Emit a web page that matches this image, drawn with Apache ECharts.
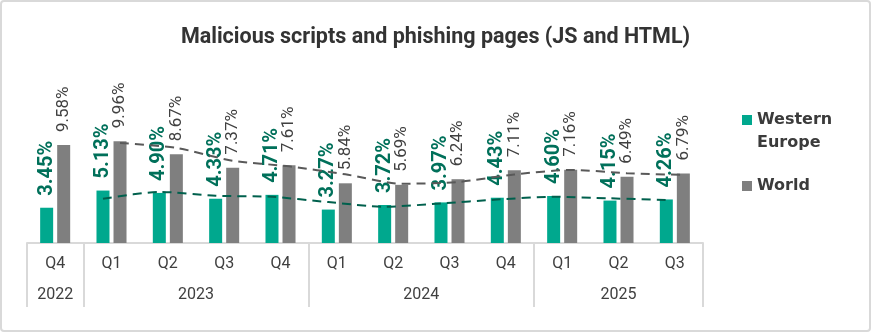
<!DOCTYPE html>
<html><head><meta charset="utf-8">
<script src="https://cdn.jsdelivr.net/npm/echarts@6/dist/echarts.min.js"></script>
<style>html,body{margin:0;padding:0;background:#fff}#c{width:871px;height:332px}</style>
</head><body><div id="c"></div>
<script>
const quarters = ['Q4','Q1','Q2','Q3','Q4','Q1','Q2','Q3','Q4','Q1','Q2','Q3'];
const years = ['2022','2023','2024','2025'];
const quartersPerYear = [1,4,4,3];
const westernEurope = [3.45,5.13,4.90,4.33,4.71,3.27,3.72,3.97,4.43,4.60,4.15,4.26];
const world = [9.58,9.96,8.67,7.37,7.61,5.84,5.69,6.24,7.11,7.16,6.49,6.79];
const westernEuropeTrend = [null,4.32,5.00,4.62,4.52,4.00,3.55,3.87,4.25,4.52,4.37,4.20];
const worldTrend = [null,9.78,9.30,8.05,7.50,6.72,5.80,5.97,6.70,7.15,6.83,6.66];

// year axis slots (half-category positions)
const nSlots = quarters.length * 2 + 1;
const slotIds = Array.from({length: nSlots}, (_, i) => 's' + i);
const slotLabel = new Array(nSlots).fill('');
const sepSlots = new Set();
let s = 0;
years.forEach((y, i) => { sepSlots.add(2 * s); slotLabel[2 * s + quartersPerYear[i]] = y; s += quartersPerYear[i]; });
sepSlots.add(2 * s);

const FONT = 'Roboto';
const gridLeft = 27, gridRight = 168, gridTop = 59, gridBottom = 89, shift = 8.5;
const fmt = p => p.value.toFixed(2) + '%';

const chart = echarts.init(document.getElementById('c'), null, {renderer: 'canvas'});
chart.setOption({
  animation: false,
  backgroundColor: '#fff',
  textStyle: {fontFamily: FONT},
  title: {
    text: 'Malicious scripts and phishing pages (JS and HTML)',
    left: 'center', top: 22, padding: [5, 5, 5, 28],
    textStyle: {fontFamily: FONT, fontSize: 21.5, fontWeight: 'bold', color: '#333333'}
  },
  graphic: [{type: 'rect', shape: {x: 1, y: 1, width: 869, height: 330, r: 3}, style: {fill: 'none', stroke: '#d9d9d9', lineWidth: 2}, silent: true}],
  legend: {
    data: ['Western Europe', 'World'],
    orient: 'vertical', left: 742, top: 85.5, padding: 0,
    itemWidth: 10, itemHeight: 10, itemGap: 20, icon: 'rect',
    formatter: n => n === 'Western Europe' ? '\nWestern\nEurope' : n,
    textStyle: {fontFamily: 'DejaVu Sans', fontSize: 16, fontWeight: 'bold', color: '#3b3b3b', lineHeight: 23}
  },
  grid: [
    {left: gridLeft, right: gridRight, top: gridTop, bottom: gridBottom},
    {left: gridLeft - shift, right: gridRight + shift, top: gridTop, bottom: gridBottom},
    {left: gridLeft + shift, right: gridRight - shift, top: gridTop, bottom: gridBottom}
  ],
  xAxis: [
    {type: 'category', gridIndex: 0, data: quarters, position: 'bottom',
     axisLine: {show: false}, axisTick: {show: false},
     axisLabel: {margin: 13, fontSize: 16, color: '#404040', fontFamily: FONT}},
    {type: 'category', gridIndex: 0, data: slotIds, position: 'bottom', boundaryGap: false,
     axisLine: {show: true, lineStyle: {color: '#d9d9d9', width: 2}},
     axisTick: {show: true, length: 64, interval: (i) => sepSlots.has(i), lineStyle: {color: '#d9d9d9', width: 2}},
     axisLabel: {margin: 44, interval: 0, fontSize: 16, color: '#404040', fontFamily: FONT, formatter: (v, i) => slotLabel[i]}},
    {type: 'category', gridIndex: 1, data: quarters, show: false},
    {type: 'category', gridIndex: 2, data: quarters, show: false}
  ],
  yAxis: [
    {type: 'value', gridIndex: 0, min: 0, max: 18, show: false},
    {type: 'value', gridIndex: 1, min: 0, max: 18, show: false},
    {type: 'value', gridIndex: 2, min: 0, max: 18, show: false}
  ],
  series: [
    {name: 'Western Europe', type: 'bar', xAxisIndex: 0, yAxisIndex: 0, data: westernEurope,
     barWidth: 13, barGap: '31%', itemStyle: {color: '#00a88e'},
     label: {show: true, position: 'top', rotate: 90, align: 'left', verticalAlign: 'middle', distance: 12,
             formatter: fmt, fontSize: 20, fontWeight: 'bold', color: '#00705a', fontFamily: FONT}},
    {name: 'World', type: 'bar', xAxisIndex: 0, yAxisIndex: 0, data: world,
     barWidth: 13, itemStyle: {color: '#7f7f7f'},
     label: {show: true, position: 'top', rotate: 90, align: 'left', verticalAlign: 'middle', distance: 13,
             formatter: fmt, fontSize: 17, color: '#404040', fontFamily: FONT}},
    {name: 'Western Europe trend', type: 'line', xAxisIndex: 2, yAxisIndex: 1, data: westernEuropeTrend,
     smooth: 0.25, symbol: 'none', z: 5, lineStyle: {color: '#00604d', width: 2, type: [9, 6]}},
    {name: 'World trend', type: 'line', xAxisIndex: 3, yAxisIndex: 2, data: worldTrend,
     smooth: 0.25, symbol: 'none', z: 5, lineStyle: {color: '#595959', width: 2, type: [9, 6]}}
  ]
});
</script></body></html>
